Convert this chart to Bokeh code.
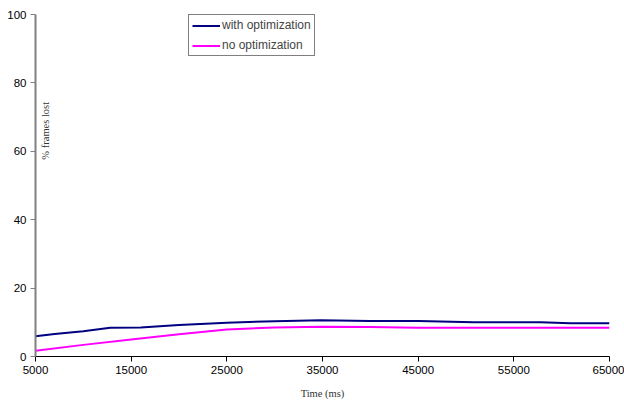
import math
from bokeh.plotting import figure
from bokeh.models import Range1d, Label, FixedTicker, Legend, LegendItem
from bokeh.embed import file_html
from bokeh.resources import INLINE

time_opt = [5000, 7000, 10000, 12800, 16000, 20000, 25000, 30000, 34800, 40000, 45000, 50800, 57800, 60900, 65000]
with_opt = [5.9, 6.6, 7.4, 8.4, 8.5, 9.2, 9.9, 10.3, 10.6, 10.4, 10.4, 10.0, 10.0, 9.7, 9.7]
time_noopt = [5000, 10000, 15000, 20000, 25000, 30000, 34800, 40000, 44900, 50000, 55000, 65000]
no_opt = [1.7, 3.4, 5.0, 6.5, 7.9, 8.5, 8.7, 8.6, 8.4, 8.4, 8.4, 8.4]
x_ticks = [5000, 15000, 25000, 35000, 45000, 55000, 65000]
y_ticks = [0, 20, 40, 60, 80, 100]

p = figure(width=624, height=402, output_backend="svg", toolbar_location=None,
           x_range=Range1d(5000, 65000), y_range=Range1d(0, 100),
           min_border_left=35, min_border_right=15, min_border_top=14, min_border_bottom=46)
p.outline_line_color = None
p.xgrid.visible = False
p.ygrid.visible = False
p.background_fill_color = "white"

r1 = p.line(time_opt, with_opt, line_color="#000080", line_width=2)
r2 = p.line(time_noopt, no_opt, line_color="#FF00FF", line_width=2)

p.xaxis.ticker = FixedTicker(ticks=x_ticks)
p.yaxis.ticker = FixedTicker(ticks=y_ticks)
for ax in (p.xaxis, p.yaxis):
    ax.minor_tick_line_color = None
    ax.major_tick_in = 0
    ax.major_tick_out = 5
    ax.major_label_text_font = "Liberation Sans"
    ax.major_label_text_font_size = "11.5px"
    ax.major_label_text_color = "black"
    ax.major_label_standoff = 4
p.xaxis.axis_line_color = "black"
p.xaxis.major_tick_line_color = "black"
p.yaxis.axis_line_color = "#808080"
p.yaxis.axis_line_width = 2
p.yaxis.major_tick_line_color = "#808080"

p.xaxis.axis_label = "Time (ms)"
p.xaxis.axis_label_text_font = "Liberation Serif"
p.xaxis.axis_label_text_font_style = "normal"
p.xaxis.axis_label_text_font_size = "10.5px"
p.xaxis.axis_label_text_color = "#333333"
p.xaxis.axis_label_standoff = 11

ylab = Label(x=5000, y=66, x_offset=10, text="% frames lost", angle=math.pi / 2,
             text_font="Liberation Serif", text_font_size="10.5px", text_color="#333333",
             text_align="center", text_baseline="middle")
p.add_layout(ylab)

legend = Legend(items=[LegendItem(label="with optimization", renderers=[r1]),
                       LegendItem(label="no optimization", renderers=[r2])],
                location=(153, 300), border_line_color="black", border_line_width=1,
                padding=3, spacing=6, glyph_width=28, glyph_height=13, label_standoff=2,
                label_text_font="Liberation Sans", label_text_font_size="12px",
                margin=0, background_fill_alpha=1)
p.add_layout(legend)

open("out.html", "w").write(file_html(p, INLINE))
